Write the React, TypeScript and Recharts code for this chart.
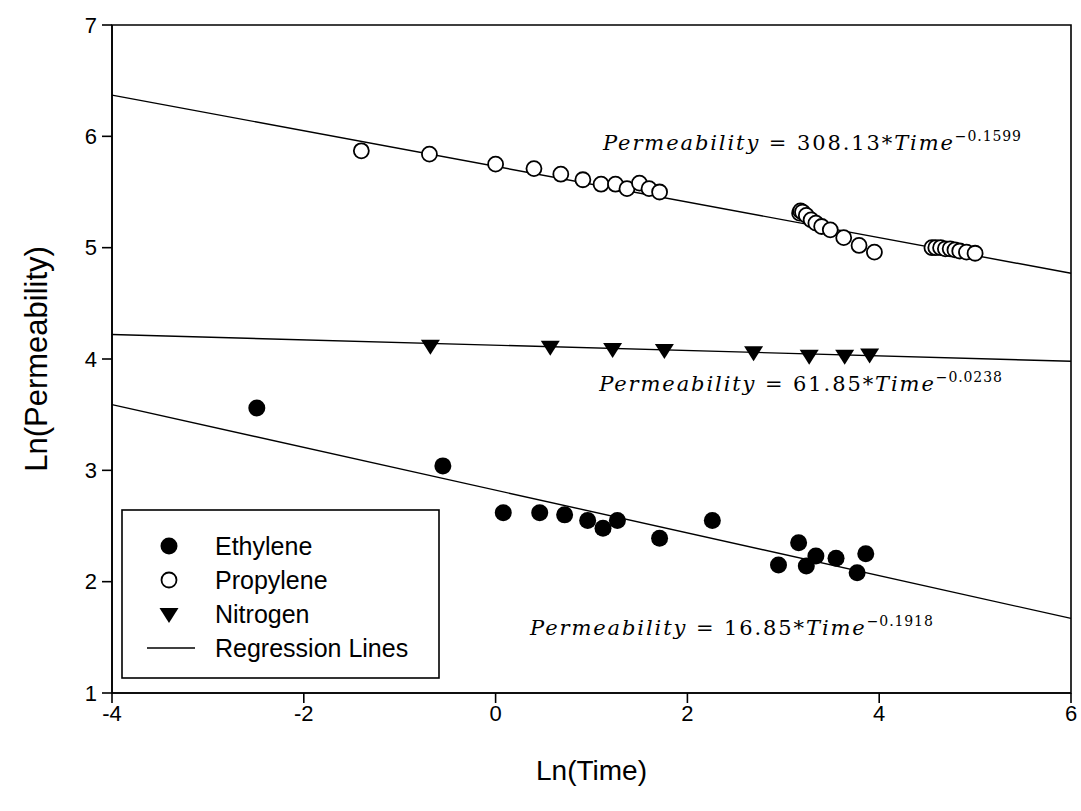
import React from 'react';
import {
  ScatterChart,
  Scatter,
  XAxis,
  YAxis,
  ReferenceLine,
  ReferenceArea,
  ReferenceDot,
  Legend,
} from 'recharts';

// ---------- data ----------
const xTicks = [-4, -2, 0, 2, 4, 6];
const yTicks = [1, 2, 3, 4, 5, 6, 7];

const ethyleneX = [-2.49, -0.55, 0.08, 0.46, 0.72, 0.96, 1.12, 1.27, 1.71, 2.26, 2.95, 3.16, 3.24, 3.34, 3.55, 3.77, 3.86];
const ethyleneY = [3.56, 3.04, 2.62, 2.62, 2.6, 2.55, 2.48, 2.55, 2.39, 2.55, 2.15, 2.35, 2.14, 2.23, 2.21, 2.08, 2.25];

const propyleneX = [-1.4, -0.69, 0.0, 0.4, 0.68, 0.91, 1.1, 1.25, 1.37, 1.5, 1.6, 1.71,
  3.17, 3.18, 3.2, 3.24, 3.29, 3.34, 3.4, 3.49, 3.63, 3.79, 3.95,
  4.55, 4.59, 4.64, 4.69, 4.74, 4.79, 4.84, 4.91, 5.0];
const propyleneY = [5.87, 5.84, 5.75, 5.71, 5.66, 5.61, 5.57, 5.57, 5.53, 5.58, 5.53, 5.5,
  5.31, 5.33, 5.32, 5.29, 5.25, 5.22, 5.19, 5.16, 5.09, 5.02, 4.96,
  5.0, 5.0, 5.0, 4.99, 4.99, 4.98, 4.97, 4.96, 4.95];

const nitrogenX = [-0.68, 0.57, 1.22, 1.76, 2.69, 3.27, 3.64, 3.9];
const nitrogenY = [4.12, 4.11, 4.09, 4.08, 4.06, 4.03, 4.03, 4.04];

// regression line end points (at Ln(Time) = -4 and 6)
const regX = [-4, 6];
const propyleneRegY = [6.37, 4.77];
const nitrogenRegY = [4.22, 3.98];
const ethyleneRegY = [3.59, 1.67];

const legendLabels = ['Ethylene', 'Propylene', 'Nitrogen', 'Regression Lines'];

const equations = [
  { x: 1.12, y: 5.88, coef: '308.13', exp: '\u22120.1599' },
  { x: 1.08, y: 3.71, coef: '61.85', exp: '\u22120.0238' },
  { x: 0.36, y: 1.52, coef: '16.85', exp: '\u22120.1918' },
];

const zip = (xs: number[], ys: number[]) => xs.map((x, i) => ({ x, y: ys[i] }));
const ethylene = zip(ethyleneX, ethyleneY);
const propylene = zip(propyleneX, propyleneY);
const nitrogen = zip(nitrogenX, nitrogenY);

// ---------- styles ----------
const SANS = '"Liberation Sans", Arial, sans-serif';
const SERIF = '"DejaVu Serif", serif';

const FilledCircle = (p: any) => <circle cx={p.cx} cy={p.cy} r={8.5} fill="#000" />;
const OpenCircle = (p: any) => (
  <circle cx={p.cx} cy={p.cy} r={7.5} fill="#fff" stroke="#000" strokeWidth={1.8} />
);
const DownTriangle = (p: any) => (
  <path
    d={`M${p.cx - 9.5},${p.cy - 6} L${p.cx + 9.5},${p.cy - 6} L${p.cx},${p.cy + 9} Z`}
    fill="#000"
  />
);

const EquationLabel = (coef: string, exp: string) => (props: any) => {
  const { viewBox } = props;
  const x = viewBox.x + (viewBox.width || 0) / 2;
  const y = viewBox.y + (viewBox.height || 0) / 2;
  return (
    <text x={x} y={y} fontFamily={SERIF} fontSize={21} fill="#000" letterSpacing={1.9}>
      <tspan fontStyle="italic">Permeability</tspan>
      <tspan> = {coef}*</tspan>
      <tspan fontStyle="italic">Time</tspan>
      <tspan fontSize={14} dy={-9} letterSpacing={0.9}>{exp}</tspan>
    </text>
  );
};

const XTitle = (props: any) => {
  const { viewBox } = props;
  return (
    <text
      x={viewBox.x + viewBox.width / 2}
      y={viewBox.y + 87}
      textAnchor="middle"
      fontFamily={SANS}
      fontSize={28}
      fill="#000"
    >
      Ln(Time)
    </text>
  );
};

const YTitle = (props: any) => {
  const { viewBox } = props;
  const cx = viewBox.x + 47;
  const cy = viewBox.y + viewBox.height / 2;
  return (
    <text
      x={cx}
      y={cy}
      transform={`rotate(-90, ${cx}, ${cy})`}
      textAnchor="middle"
      fontFamily={SANS}
      fontSize={31}
      fill="#000"
    >
      Ln(Permeability)
    </text>
  );
};

const LegendBox = () => {
  const rowY = [37, 71, 105, 139];
  return (
    <svg width={320} height={172} style={{ display: 'block' }}>
      <rect x={1} y={1} width={317} height={168} fill="#fff" stroke="#000" strokeWidth={1.6} />
      <circle cx={48} cy={rowY[0]} r={8.5} fill="#000" />
      <circle cx={48} cy={rowY[1]} r={7.5} fill="#fff" stroke="#000" strokeWidth={1.8} />
      <path d={`M38.5,${rowY[2] - 6} L57.5,${rowY[2] - 6} L48,${rowY[2] + 9} Z`} fill="#000" />
      <line x1={26} x2={74} y1={rowY[3]} y2={rowY[3]} stroke="#000" strokeWidth={1.3} />
      {legendLabels.map((t, i) => (
        <text key={t} x={94} y={rowY[i] + 9} fontFamily={SANS} fontSize={25} fill="#000">
          {t}
        </text>
      ))}
    </svg>
  );
};

const tickStyle = { fill: '#000', fontSize: 22, fontFamily: SANS };

export default function App() {
  return (
    <div style={{ position: 'absolute', left: 0, top: 0, width: 1081, height: 811, background: '#fff' }}>
      <ScatterChart width={1081} height={811} margin={{ top: 25, right: 10, bottom: 0, left: 0 }}>
        <XAxis
          type="number"
          dataKey="x"
          domain={[-4, 6]}
          ticks={xTicks}
          allowDataOverflow
          height={118}
          tickSize={10}
          tickMargin={2}
          tick={tickStyle}
          stroke="#000"
          strokeWidth={1.6}
          label={<XTitle />}
        />
        <YAxis
          type="number"
          dataKey="y"
          domain={[1, 7]}
          ticks={yTicks}
          allowDataOverflow
          width={112}
          tickSize={10}
          tickMargin={5}
          tick={tickStyle}
          stroke="#000"
          strokeWidth={1.6}
          label={<YTitle />}
        />
        <ReferenceArea x1={-4} x2={6} y1={1} y2={7} fill="none" stroke="#000" strokeWidth={1.6} ifOverflow="visible" />
        <ReferenceLine
          segment={[{ x: regX[0], y: propyleneRegY[0] }, { x: regX[1], y: propyleneRegY[1] }]}
          stroke="#000"
          strokeWidth={1.4}
        />
        <ReferenceLine
          segment={[{ x: regX[0], y: nitrogenRegY[0] }, { x: regX[1], y: nitrogenRegY[1] }]}
          stroke="#000"
          strokeWidth={1.4}
        />
        <ReferenceLine
          segment={[{ x: regX[0], y: ethyleneRegY[0] }, { x: regX[1], y: ethyleneRegY[1] }]}
          stroke="#000"
          strokeWidth={1.4}
        />
        <Scatter name="Propylene" data={propylene} shape={OpenCircle} isAnimationActive={false} />
        <Scatter name="Nitrogen" data={nitrogen} shape={DownTriangle} isAnimationActive={false} />
        <Scatter name="Ethylene" data={ethylene} shape={FilledCircle} isAnimationActive={false} />
        {equations.map((e) => (
          <ReferenceDot
            key={e.coef}
            x={e.x}
            y={e.y}
            r={0}
            fill="none"
            stroke="none"
            ifOverflow="visible"
            label={EquationLabel(e.coef, e.exp)}
          />
        ))}
        <Legend
          layout="vertical"
          align="center"
          verticalAlign="middle"
          content={<LegendBox />}
          wrapperStyle={{ position: 'absolute', left: 121, top: 509, width: 320, height: 172 }}
        />
      </ScatterChart>
    </div>
  );
}
